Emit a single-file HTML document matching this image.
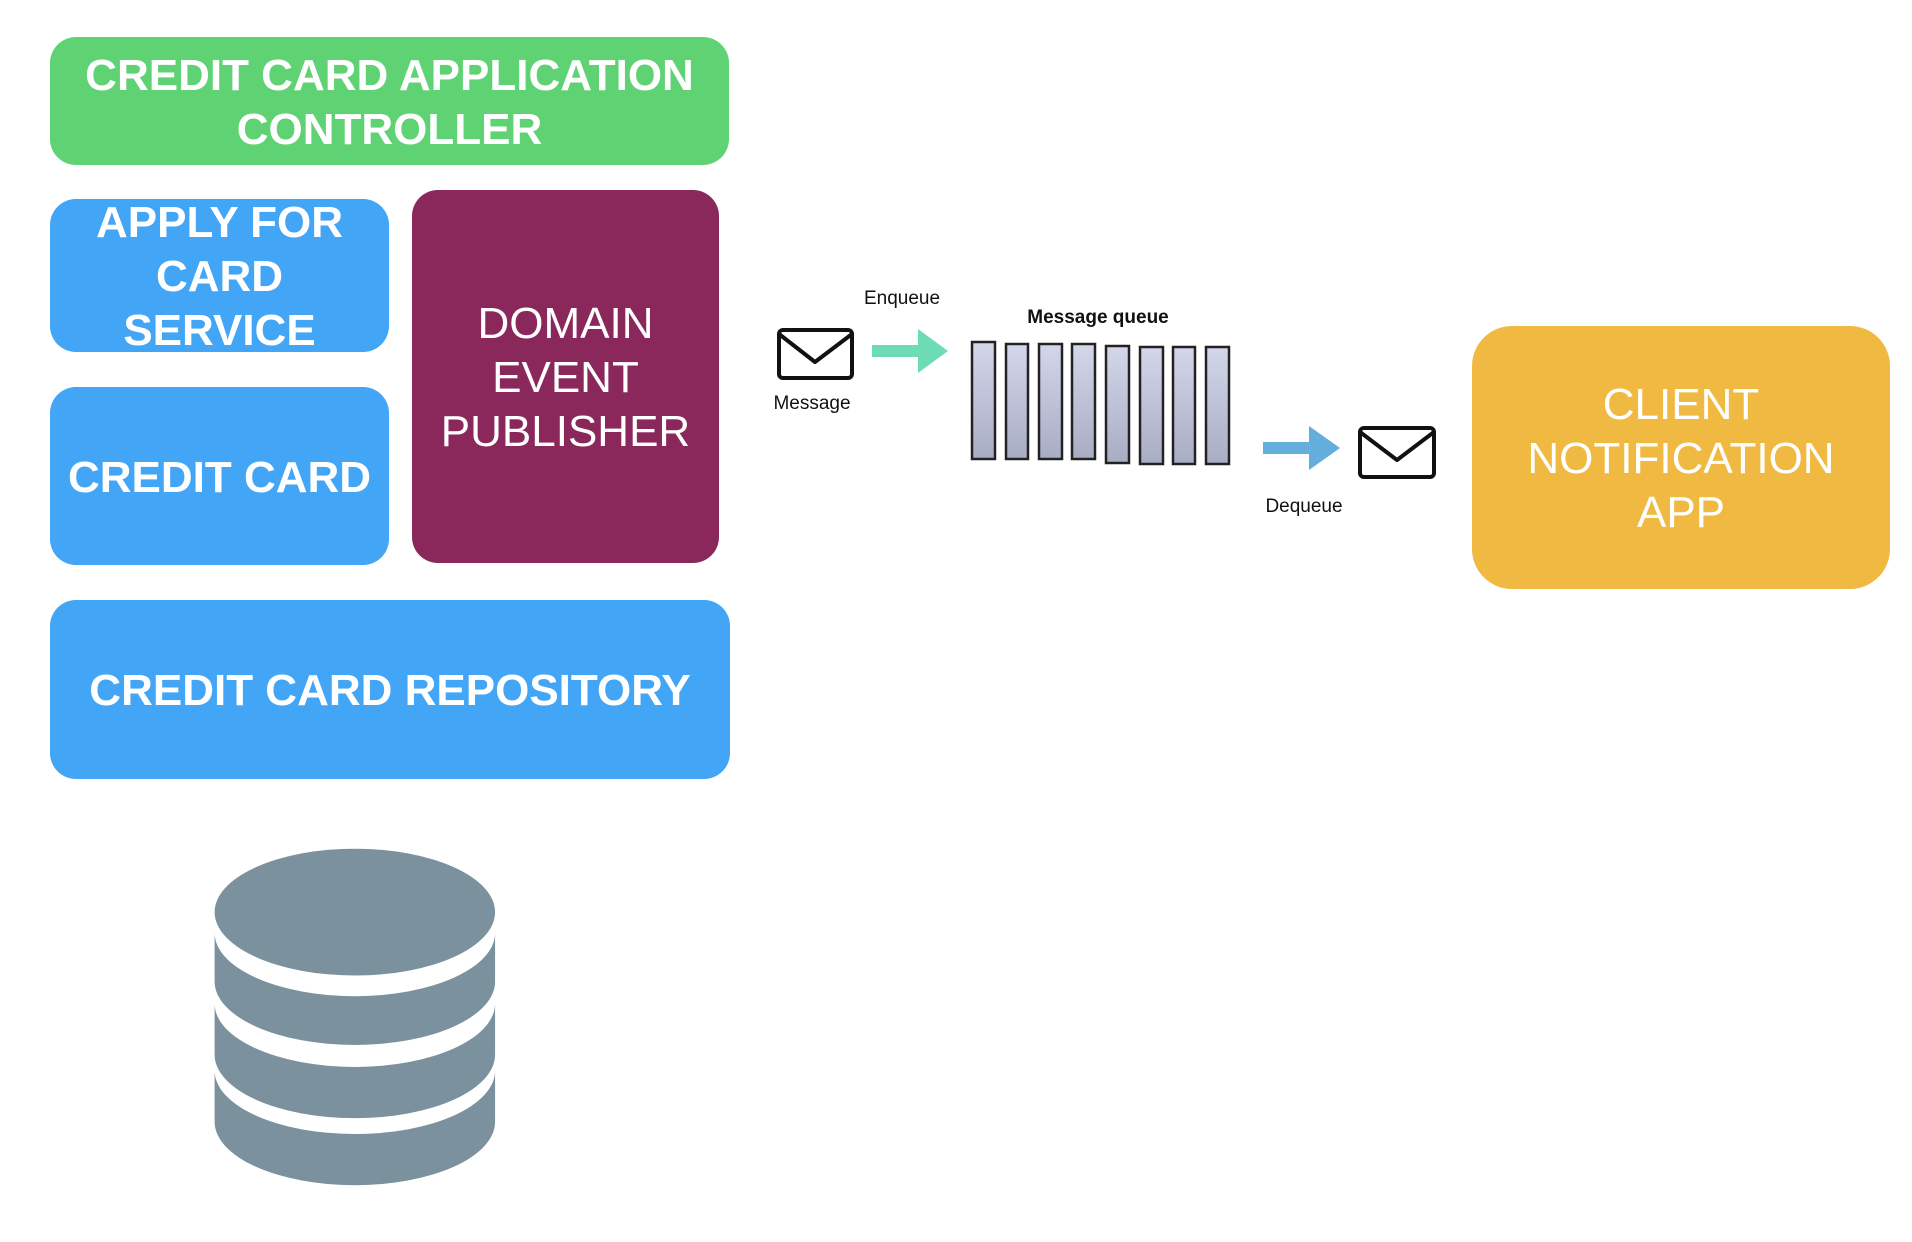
<!DOCTYPE html>
<html><head><meta charset="utf-8"><style>
body{margin:0;width:1912px;height:1242px;background:#fff;position:relative;overflow:hidden;font-family:"Liberation Sans",sans-serif}
.b{position:absolute;display:flex;align-items:center;justify-content:center;text-align:center;color:#fff;font-weight:bold;font-size:44px;line-height:54px;border-radius:26px}
.g{background:#5fd374}.bl{background:#42a5f5}.p{background:#8b285b;font-weight:normal}.o{background:#f0b942;font-weight:normal}
.t{position:absolute;font-size:19px;color:#111;transform:translateX(-50%)}
</style></head><body>
<div class="b g" style="left:50px;top:37px;width:679px;height:128px;padding-top:3px;box-sizing:border-box">CREDIT CARD APPLICATION<br>CONTROLLER</div>
<div class="b bl" style="left:50px;top:199px;width:339px;height:153px;padding-top:3px;box-sizing:border-box">APPLY FOR<br>CARD<br>SERVICE</div>
<div class="b bl" style="left:50px;top:387px;width:339px;height:178px;padding-top:3px;box-sizing:border-box">CREDIT CARD</div>
<div class="b p" style="left:412px;top:190px;width:307px;height:373px;padding-top:3px;box-sizing:border-box">DOMAIN<br>EVENT<br>PUBLISHER</div>
<div class="b bl" style="left:50px;top:600px;width:680px;height:179px;padding-top:3px;box-sizing:border-box">CREDIT CARD REPOSITORY</div>
<div class="b o" style="left:1472px;top:326px;width:418px;height:263px;border-radius:40px;padding-top:3px;box-sizing:border-box">CLIENT<br>NOTIFICATION<br>APP</div>
<div class="t" style="left:902px;top:288px">Enqueue</div>
<div class="t" style="left:812px;top:393px">Message</div>
<div class="t" style="left:1304px;top:496px">Dequeue</div>
<div class="t" style="left:1098px;top:307px;font-weight:bold">Message queue</div>
<svg width="1912" height="1242" style="position:absolute;left:0;top:0">
<defs><linearGradient id="q" x1="0" y1="0" x2="0" y2="1"><stop offset="0" stop-color="#d4d6ea"/><stop offset="1" stop-color="#a9adc4"/></linearGradient></defs>
<g stroke="#222" stroke-width="2.5" fill="url(#q)">
<rect x="972" y="342" width="23" height="117"/><rect x="1006" y="344" width="22" height="115"/><rect x="1039" y="344" width="23" height="115"/><rect x="1072" y="344" width="23" height="115"/><rect x="1106" y="346" width="23" height="117"/><rect x="1140" y="347" width="23" height="117"/><rect x="1173" y="347" width="22" height="117"/><rect x="1206" y="347" width="23" height="117"/>
</g>
<g stroke="#111" stroke-width="4" fill="#fff" stroke-linejoin="round">
<rect x="779" y="330" width="73" height="48" rx="4"/><polyline points="779,334 815,362 852,334" fill="none"/>
<rect x="1360" y="428" width="74" height="49" rx="4"/><polyline points="1360,432 1397,460 1434,432" fill="none"/>
</g>
<polygon points="872,345 918,345 918,329 948,351 918,373 918,357 872,357" fill="#6ddcb4"/>
<polygon points="1263,442 1309,442 1309,426 1340,448 1309,470 1309,454 1263,454" fill="#63aedb"/>
<g fill="#7b929e" transform="scale(1.2194)">
<path d="M176,765 a115,52 0 0 0 230,0 V805 a115,52 0 0 1 -230,0z"/>
<path d="M176,823 a115,52 0 0 0 230,0 V865 a115,52 0 0 1 -230,0z"/>
<path d="M176,878 a115,52 0 0 0 230,0 V920 a115,52 0 0 1 -230,0z"/>
<ellipse cx="291" cy="748" rx="115" ry="52"/>
</g>
</svg>
</body></html>
